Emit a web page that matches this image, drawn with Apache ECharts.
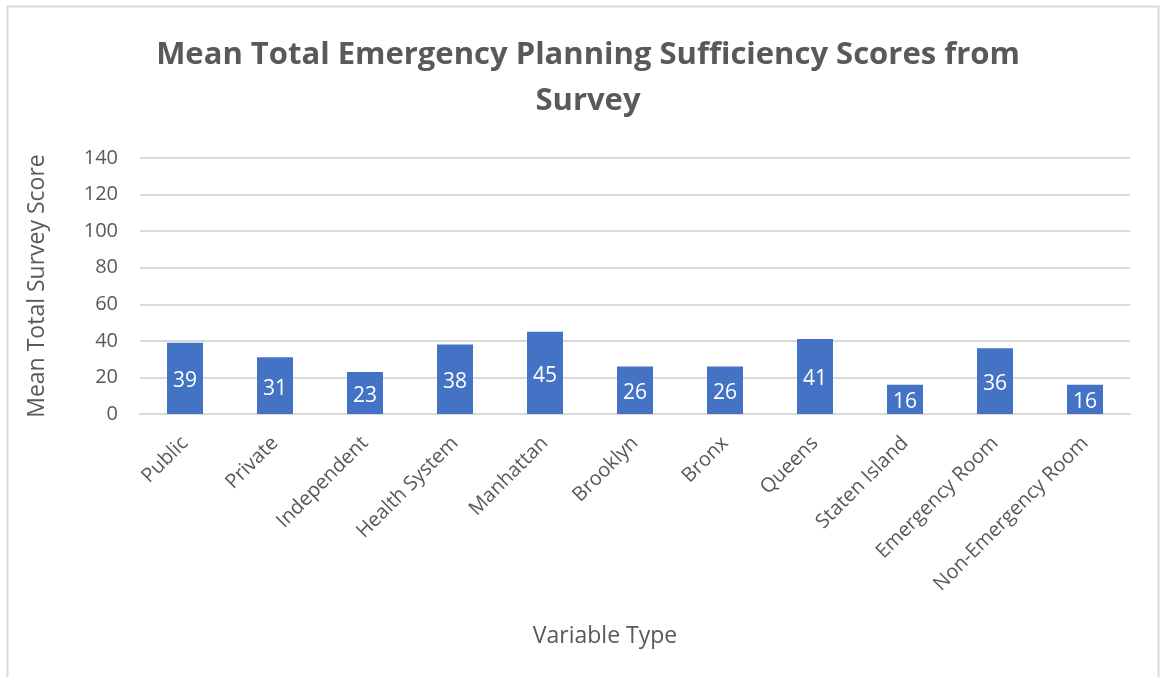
<!DOCTYPE html>
<html>
<head>
<meta charset="utf-8">
<script src="https://cdn.jsdelivr.net/npm/echarts@6/dist/echarts.min.js"></script>
<style>
  html, body { margin: 0; padding: 0; background: #ffffff; }
  #chart { width: 1160px; height: 677px; }
</style>
</head>
<body>
<div id="chart"></div>
<script>
// Survey categories and their mean total scores
const categories = ['Public', 'Private', 'Independent', 'Health System', 'Manhattan', 'Brooklyn', 'Bronx', 'Queens', 'Staten Island', 'Emergency Room', 'Non-Emergency Room'];
const meanScores = [39, 31, 23, 38, 45, 26, 26, 41, 16, 36, 16];
const titleText = 'Mean Total Emergency Planning Sufficiency Scores from\nSurvey';
const yAxisTitle = 'Mean Total Survey Score';
const xAxisTitle = 'Variable Type';

const FONT = '"Open Sans", "Noto Sans", sans-serif';
const GREY = '#595959';

const chart = echarts.init(document.getElementById('chart'), null, { renderer: 'canvas' });
chart.setOption({
  animation: false,
  backgroundColor: '#ffffff',
  title: {
    text: titleText,
    left: 583,
    top: 27,
    textAlign: 'center',
    textStyle: { fontFamily: FONT, fontSize: 31, fontWeight: 'bold', color: GREY, lineHeight: 46 }
  },
  graphic: [
    {
      type: 'rect',
      shape: { x: 7.5, y: 6.5, width: 1151, height: 700 },
      style: { fill: 'none', stroke: '#d9d9d9', lineWidth: 2 },
      silent: true
    },
    {
      type: 'text',
      x: 605, y: 636,
      style: { text: xAxisTitle, font: '23px ' + FONT, fill: GREY, textAlign: 'center', textVerticalAlign: 'middle' }
    }
  ],
  grid: { left: 140, right: 30, top: 158, height: 256 },
  xAxis: {
    type: 'category',
    data: categories,
    axisLine: { lineStyle: { color: '#d9d9d9', width: 2 } },
    axisTick: { show: false },
    axisLabel: { rotate: 45, interval: 0, margin: 26, fontFamily: FONT, fontSize: 20, color: GREY }
  },
  yAxis: {
    type: 'value',
    min: 0, max: 140, interval: 20,
    name: yAxisTitle,
    nameLocation: 'middle',
    nameGap: 91,
    nameTextStyle: { fontFamily: FONT, fontSize: 23, color: GREY },
    axisLine: { show: false },
    axisTick: { show: false },
    axisLabel: { margin: 22, fontFamily: FONT, fontSize: 20, color: GREY },
    splitLine: { lineStyle: { color: '#d9d9d9', width: 2 } }
  },
  series: [{
    type: 'bar',
    data: meanScores,
    barWidth: 36,
    itemStyle: { color: '#4472C4' },
    label: { show: true, position: 'inside', offset: [0, 3], fontFamily: FONT, fontSize: 21, color: '#ffffff' }
  }]
});
</script>
</body>
</html>
